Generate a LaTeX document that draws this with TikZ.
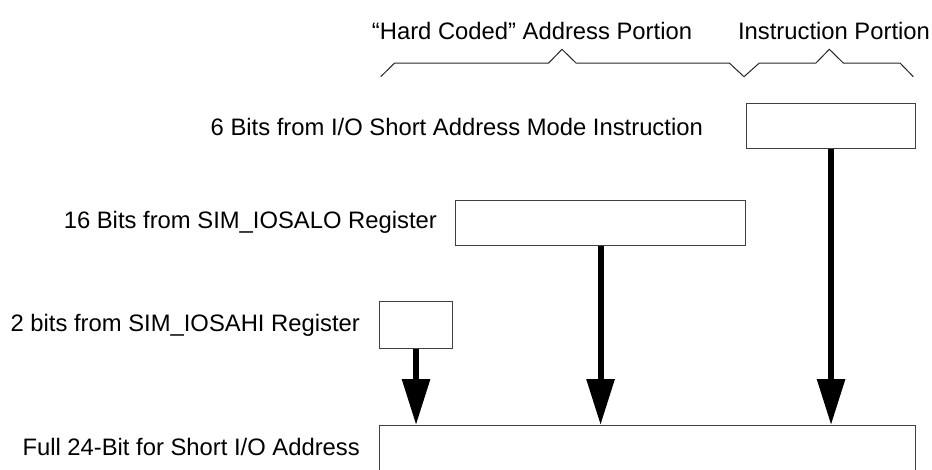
\documentclass[tikz,border=0pt]{standalone}
\usepackage{fontspec}
\setmainfont{Liberation Sans}
\usetikzlibrary{arrows.meta}
\begin{document}
\begin{tikzpicture}[x=1pt,y=-1pt,
  regbox/.style={draw=black!75,line width=1.1pt,fill=white,rectangle,inner sep=0pt,anchor=north west},
  lbl/.style={font=\fontsize{23.8}{28}\selectfont,inner sep=0pt,anchor=base east},
  hdr/.style={font=\fontsize{23.8}{28}\selectfont,inner sep=0pt,anchor=base},
  bigarrow/.style={line width=6pt,-{Triangle[width=27pt,length=46pt]}},
  brace/.style={draw=black!85,line width=1pt}]
\clip (0,0) rectangle (932,469);
% header labels
\node[hdr] (hc) at (532,39.5) {“Hard Coded” Address Portion};
\node[hdr] (ip) at (834,39.5) {Instruction Portion};
% brackets
\draw[brace] (380.7,76.7) -- (394.7,63) -- (548.7,63) -- (562,49.3) -- (576,63)
  -- (729.3,63) -- (744,76.7) -- (759.3,63) -- (816,63) -- (829.3,49.3)
  -- (843.3,63) -- (900,63) -- (913.3,76.7);
% boxes
\node[regbox,minimum width=169pt,minimum height=45pt] (instr) at (746,103) {};
\node[regbox,minimum width=290pt,minimum height=45pt] (lo) at (455,200) {};
\node[regbox,minimum width=73pt,minimum height=47pt] (hi) at (379,301) {};
\node[regbox,minimum width=536pt,minimum height=80pt] (full) at (379,425) {};
% labels
\node[lbl] (l1) at (703,135) {6 Bits from I/O Short Address Mode Instruction};
\node[lbl] (l2) at (437,228) {16 Bits from SIM\_IOSALO Register};
\node[lbl] (l3) at (360,331) {2 bits from SIM\_IOSAHI Register};
\node[lbl] (l4) at (360,455) {Full 24-Bit for Short I/O Address};
% arrows
\draw[bigarrow] (hi.south) -- (hi.south |- full.north);
\draw[bigarrow] (lo.south) -- (lo.south |- full.north);
\draw[bigarrow] (instr.south) -- (instr.south |- full.north);
\end{tikzpicture}
\end{document}
